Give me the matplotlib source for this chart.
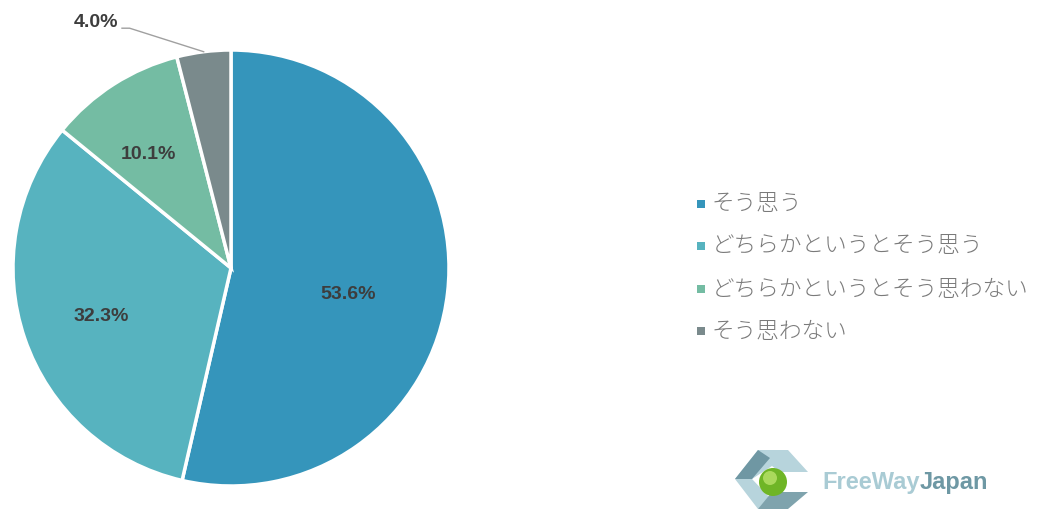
import matplotlib

matplotlib.use("Agg")
import matplotlib.pyplot as plt
import numpy as np
from matplotlib.patches import Circle, Polygon, Rectangle

plt.rcParams["font.family"] = ["Noto Sans CJK JP", "DejaVu Sans"]

labels = ["そう思う", "どちらかというとそう思う", "どちらかというとそう思わない", "そう思わない"]
shares = [53.6, 32.3, 10.1, 4.0]
colors = ["#3595bb", "#57b3bf", "#74bca3", "#7a8a8c"]

W, H = 1041, 509
fig = plt.figure(figsize=(W / 100, H / 100), dpi=100)

# pie: centre (231, 268) px, radius 218 px
cx, cy, rad = 231, 268, 218
ax = fig.add_axes([(cx - rad) / W, (H - cy - rad) / H, 2 * rad / W, 2 * rad / H])
wedges, _ = ax.pie(
    shares,
    colors=colors,
    startangle=90,
    counterclock=False,
    radius=1.0,
    wedgeprops=dict(edgecolor="white", linewidth=2.5),
)
ax.set_xlim(-1, 1)
ax.set_ylim(-1, 1)
ax.axis("off")

sans = ["Liberation Sans", "DejaVu Sans"]
label_font = dict(family=sans, fontweight="bold", fontsize=14, color="#3d3d3d")
label_r = [0.56, 0.63, 0.62]
label_nudge = [(-0.02, -0.06), (0.0, -0.02), (-0.045, 0.0)]
for w, val, r, (dx, dy) in zip(wedges[:3], shares[:3], label_r, label_nudge):
    mid = np.radians((w.theta1 + w.theta2) / 2)
    ax.text(r * np.cos(mid) + dx, r * np.sin(mid) + dy, f"{val:.1f}%",
            ha="center", va="center", **label_font)

# small slice gets an outside label with a leader line
w = wedges[3]
mid = np.radians((w.theta1 + w.theta2) / 2)
ex, ey = np.cos(mid), np.sin(mid)
ax.plot([ex, -0.465, -0.50], [ey, 1.10, 1.10], color="#a0a0a0", linewidth=1.0, clip_on=False)
ax.text(-0.515, 1.125, f"{shares[3]:.1f}%", ha="right", va="center", clip_on=False, **label_font)

# legend and logo drawn in pixel coordinates
ov = fig.add_axes([0, 0, 1, 1])
ov.set_xlim(0, W)
ov.set_ylim(H, 0)
ov.axis("off")

row_y = [204, 246, 289, 331]
for lab, col, y in zip(labels, colors, row_y):
    ov.add_patch(Rectangle((697, y - 4), 8, 8, facecolor=col, edgecolor="none"))
    ov.text(712, y, lab, ha="left", va="center", fontsize=16.3, fontweight="light", color="#7a7a7a")

# FreeWayJapan mark
ov.add_patch(Polygon([(735, 479), (758, 450), (788, 450), (808, 472), (780, 472), (772, 466), (752, 479)],
                     closed=True, facecolor="#b7d4dc", edgecolor="none"))
ov.add_patch(Polygon([(735, 479), (758, 450), (770, 458), (752, 479)],
                     closed=True, facecolor="#6f97a3", edgecolor="none"))
ov.add_patch(Polygon([(735, 479), (752, 479), (772, 500), (758, 509)],
                     closed=True, facecolor="#b7d4dc", edgecolor="none"))
ov.add_patch(Polygon([(772, 492), (808, 492), (788, 509), (758, 509)],
                     closed=True, facecolor="#7fa3ad", edgecolor="none"))
ov.add_patch(Circle((773, 482), 14, facecolor="#6fb526", edgecolor="none"))
ov.add_patch(Circle((770, 478), 7, facecolor="#b9e36a", edgecolor="none", alpha=0.8))

free = ov.text(822, 482, "FreeWay", ha="left", va="center", fontsize=17, fontweight="bold",
               color="#a9cbd4", family=sans)
fig.canvas.draw()
bb = free.get_window_extent()
ov.annotate("Japan", xy=(1, 0.5), xycoords=bb, xytext=(0, 0), textcoords="offset points",
            ha="left", va="center", fontsize=17, fontweight="bold", color="#6e98a4", family=sans)

fig.savefig("out.png", dpi=100, facecolor="white")
